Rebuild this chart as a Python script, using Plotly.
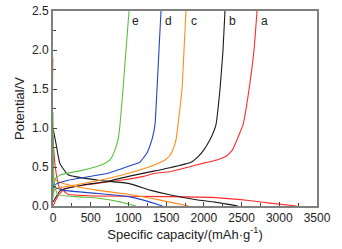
import plotly.graph_objects as go

labels = ["a", "b", "c", "d", "e"]
colors = ["#ff2a2a", "#1a1a1a", "#ff8c1a", "#2244c8", "#5cc040"]

# charge curves (capacity mAh/g, potential V)
a_chg_x = [0, 60, 150, 500, 900, 1200, 1350, 1550, 1800, 2000, 2170, 2300, 2380, 2440, 2490, 2519, 2600, 2665, 2705]
a_chg_y = [0.0, 0.12, 0.22, 0.28, 0.33, 0.38, 0.42, 0.44, 0.50, 0.55, 0.59, 0.64, 0.72, 0.85, 0.97, 1.04, 1.50, 2.00, 2.50]
b_chg_x = [0, 100, 400, 700, 1000, 1350, 1550, 1830, 1930, 2000, 2070, 2120, 2160, 2214, 2254, 2280]
b_chg_y = [0.05, 0.20, 0.27, 0.31, 0.38, 0.45, 0.49, 0.56, 0.64, 0.72, 0.83, 0.93, 1.04, 1.50, 2.00, 2.50]
c_chg_x = [0, 30, 300, 623, 1000, 1352, 1485, 1551, 1604, 1631, 1657, 1710, 1737, 1763]
c_chg_y = [0.15, 0.22, 0.27, 0.33, 0.42, 0.53, 0.59, 0.65, 0.76, 0.85, 1.04, 1.50, 2.00, 2.50]
d_chg_x = [0, 20, 200, 730, 1060, 1150, 1246, 1280, 1312, 1352, 1379, 1405, 1432]
d_chg_y = [0.20, 0.27, 0.33, 0.42, 0.53, 0.56, 0.68, 0.76, 0.85, 1.04, 1.50, 2.00, 2.50]
e_chg_x = [0, 30, 100, 350, 650, 756, 822, 862, 888, 928, 968, 1008]
e_chg_y = [0.10, 0.35, 0.40, 0.45, 0.53, 0.59, 0.72, 0.85, 1.04, 1.50, 2.00, 2.50]

# discharge curves
a_dis_x = [0, 30, 80, 200, 500, 1500, 2100, 2600, 2850, 3230]
a_dis_y = [0.85, 0.50, 0.25, 0.15, 0.13, 0.12, 0.11, 0.07, 0.04, 0.0]
b_dis_x = [0, 40, 90, 200, 600, 1000, 1300, 1560, 1900, 2150, 2450]
b_dis_y = [1.00, 0.80, 0.55, 0.40, 0.33, 0.29, 0.20, 0.14, 0.08, 0.05, 0.0]
c_dis_x = [0, 10, 100, 300, 600, 1000, 1300, 1550, 1800]
c_dis_y = [1.90, 0.35, 0.30, 0.25, 0.20, 0.15, 0.10, 0.05, 0.0]
d_dis_x = [0, 10, 150, 600, 1000, 1290, 1450]
d_dis_y = [0.90, 0.25, 0.20, 0.16, 0.12, 0.05, 0.0]
e_dis_x = [0, 15, 60, 300, 600, 900, 1100]
e_dis_y = [1.20, 0.30, 0.15, 0.12, 0.10, 0.05, 0.0]

charge = [(a_chg_x, a_chg_y), (b_chg_x, b_chg_y), (c_chg_x, c_chg_y), (d_chg_x, d_chg_y), (e_chg_x, e_chg_y)]
discharge = [(a_dis_x, a_dis_y), (b_dis_x, b_dis_y), (c_dis_x, c_dis_y), (d_dis_x, d_dis_y), (e_dis_x, e_dis_y)]
label_x = [2810, 2380, 1870, 1530, 1100]
label_y = 2.37

FONT = "Liberation Sans"

fig = go.Figure()
for i, lab in enumerate(labels):
    for (xs, ys) in (discharge[i], charge[i]):
        fig.add_trace(go.Scatter(x=xs, y=ys, mode="lines",
                                 line=dict(color=colors[i], width=1.1, shape="spline", smoothing=0.4),
                                 showlegend=False, hoverinfo="skip"))
    fig.add_annotation(x=label_x[i], y=label_y, text=lab, showarrow=False,
                       font=dict(family=FONT, size=12, color="#222"), xanchor="center")

axis_common = dict(showgrid=False, zeroline=False, showline=True, linecolor="#808080", linewidth=2,
                   mirror=True, ticks="inside", ticklen=4, tickcolor="#444", tickwidth=1,
                   automargin=False,
                   tickfont=dict(family=FONT, size=12, color="#222"))

fig.update_layout(
    width=342, height=249,
    margin=dict(l=53, r=25, t=11, b=43),
    paper_bgcolor="white", plot_bgcolor="white",
    font=dict(family=FONT, size=12, color="#222"),
    xaxis=dict(range=[0, 3500], dtick=500, title=dict(text="Specific capacity/(mAh·g<sup>-1</sup>)",
               font=dict(family=FONT, size=13, color="#222"), standoff=2),
               minor=dict(ticks="inside", dtick=250, ticklen=3, tickcolor="#444"), **axis_common),
    yaxis=dict(range=[0, 2.5], dtick=0.5, tickformat=".1f", title=dict(text="Potential/V",
               font=dict(family=FONT, size=13, color="#222"), standoff=4),
               minor=dict(ticks="inside", dtick=0.25, ticklen=3, tickcolor="#444"), **axis_common),
)

fig.write_html("out.html", config={"displayModeBar": False, "staticPlot": True},
               post_script="document.body.style.margin='0';document.body.style.overflow='hidden';")
